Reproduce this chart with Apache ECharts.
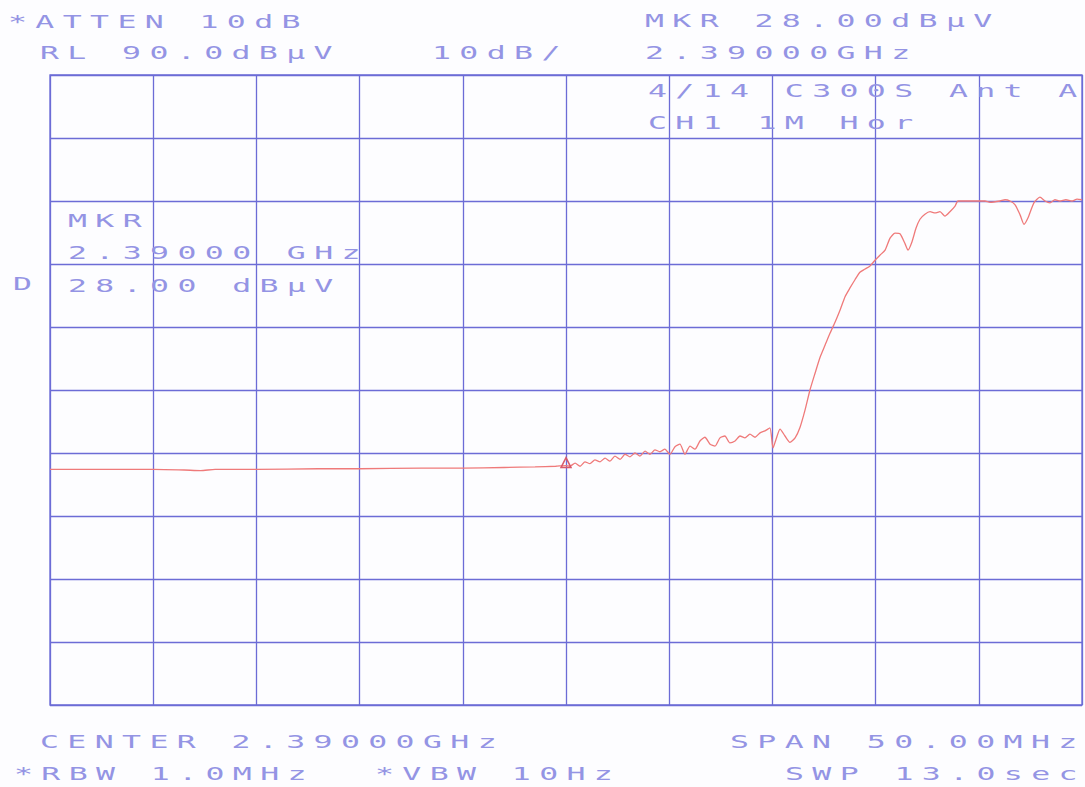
<!DOCTYPE html>
<html>
<head>
<meta charset="utf-8">
<script src="https://cdn.jsdelivr.net/npm/echarts@6/dist/echarts.min.js"></script>
<style>
  html, body { margin: 0; padding: 0; background: #fdfdff; }
  #chart { width: 1085px; height: 787px; }
  #chart text { letter-spacing: 4.8px; }
</style>
</head>
<body>
<div id="chart"></div>
<script>
// Frequency axis: center 2.39000 GHz, span 50 MHz
const freqMin = 2365, freqMax = 2415, freqStep = 5;
// Level axis: RL 90 dBµV, 10 dB/div
const levelMin = -10, levelMax = 90, levelStep = 10;

// Trace (MHz, dBµV)
const freqMHz = [
  2365, 2366, 2368, 2370, 2371.5, 2372.3, 2373, 2375, 2378, 2380, 2383, 2385, 2387, 2388.5, 2389.5, 2390,
  2390.19, 2390.44, 2390.68, 2390.92, 2391.16, 2391.40, 2391.65, 2391.89, 2392.13, 2392.37, 2392.62, 2392.86,
  2393.10, 2393.34, 2393.58, 2393.83, 2394.07, 2394.31, 2394.55, 2394.79, 2395.04, 2395.28, 2395.52, 2395.76,
  2396.01, 2396.25, 2396.49, 2396.73, 2396.98, 2397.22, 2397.46, 2397.70, 2397.94, 2398.19, 2398.43, 2398.67,
  2398.91, 2399.16, 2399.40, 2399.64, 2399.88, 2400.03, 2400.17, 2400.37, 2400.61, 2400.85, 2401.10, 2401.34,
  2401.58, 2401.82, 2402.07, 2402.31, 2402.55, 2402.79, 2403.04, 2403.28, 2403.52, 2403.76, 2404.00, 2404.24,
  2404.49, 2404.73, 2404.97, 2405.21, 2405.46, 2405.70, 2405.94, 2406.18, 2406.43, 2406.57, 2406.76, 2406.96,
  2407.15, 2407.39, 2407.64, 2407.88, 2408.12, 2408.36, 2408.60, 2408.85, 2408.99, 2409.33, 2409.81, 2410.30,
  2410.54, 2411.03, 2411.27, 2411.51, 2411.76, 2412.00, 2412.19, 2412.38, 2412.67, 2412.96, 2413.21, 2413.45,
  2413.69, 2413.93, 2414.22, 2414.51, 2414.76, 2415.00
];
const levelDbuv = [
  27.4, 27.4, 27.4, 27.4, 27.3, 27.2, 27.4, 27.4, 27.5, 27.5, 27.6, 27.6, 27.7, 27.8, 27.9, 28.0,
  27.9, 28.4, 27.9, 28.6, 28.3, 28.9, 28.6, 29.2, 28.7, 29.5, 29.0, 29.8,
  29.4, 30.0, 29.5, 30.3, 29.8, 30.5, 30.2, 30.6, 29.8, 31.0, 31.4, 29.8,
  31.1, 30.6, 31.9, 32.5, 31.4, 31.1, 32.4, 32.7, 31.6, 31.9, 32.7, 32.4,
  33.0, 32.5, 33.2, 33.5, 34.0, 30.8, 32.1, 33.8, 32.7, 31.7, 32.4, 34.1,
  36.8, 40.0, 42.7, 45.2, 47.1, 49.0, 50.8, 52.7, 54.8, 56.2, 57.5, 58.7,
  59.2, 59.7, 60.6, 61.4, 62.2, 64.1, 64.9, 64.8, 63.2, 62.2, 63.5, 65.7,
  67.1, 67.9, 68.3, 68.1, 68.3, 67.6, 68.3, 69.2, 70.0, 70.0, 70.0, 70.0,
  69.8, 70.0, 70.2, 70.0, 69.4, 67.8, 66.3, 67.3, 69.7, 70.6, 70.0, 69.7,
  70.2, 70.0, 70.2, 70.0, 70.3, 70.2
];

// Marker
const markerFreq = 2390;
const markerLevel = 28.0;

// Annotation texts
const headerLeft = ['*ATTEN 10dB', 'RL 90.0dBµV', '10dB/'];
const headerRight = ['MKR 28.00dBµV', '2.39000GHz', '4/14 C300S Ant A', 'CH1 1M Hor'];
const markerBox = ['MKR', '2.39000 GHz', '28.00 dBµV'];
const sideMark = ['D'];
const footer = ['CENTER 2.39000GHz', 'SPAN 50.00MHz', '*RBW 1.0MHz', '*VBW 10Hz', 'SWP 13.0sec'];

const textColor = '#9494e4';
const gridColor = '#6c6cd6';
const traceColor = '#ef7a7a';

function label(text, x, y) {
  return {
    type: 'text', x: x, y: y, scaleX: 1.75, scaleY: 1, z: 100,
    style: {
      text: text, fill: textColor,
      font: '18px "DejaVu Sans Mono"',
      align: 'left', verticalAlign: 'middle'
    }
  };
}

const chart = echarts.init(document.getElementById('chart'), null, { renderer: 'svg' });
chart.setOption({
  backgroundColor: '#fdfdff',
  animation: false,
  grid: {
    left: 50, top: 75, width: 1032, height: 630,
    show: true, borderColor: gridColor, borderWidth: 1.3, backgroundColor: 'transparent'
  },
  xAxis: {
    type: 'value', min: freqMin, max: freqMax, interval: freqStep,
    axisLabel: { show: false }, axisTick: { show: false },
    axisLine: { show: false },
    splitLine: { show: true, lineStyle: { color: gridColor, width: 1.3 } }
  },
  yAxis: {
    type: 'value', min: levelMin, max: levelMax, interval: levelStep,
    axisLabel: { show: false }, axisTick: { show: false },
    axisLine: { show: false },
    splitLine: { show: true, lineStyle: { color: gridColor, width: 1.3 } }
  },
  series: [{
    type: 'line',
    data: freqMHz.map((f, i) => [f, levelDbuv[i]]),
    showSymbol: false,
    smooth: 0.2,
    lineStyle: { color: traceColor, width: 1.3 },
    markPoint: {
      symbol: 'triangle', symbolSize: 10, symbolOffset: [0, -3],
      label: { show: false },
      itemStyle: { color: 'rgba(0,0,0,0)', borderColor: '#d85a6a', borderWidth: 1.5 },
      data: [{ coord: [markerFreq, markerLevel] }]
    }
  }],
  graphic: [
    label(headerLeft[0], 8, 22),
    label(headerLeft[1], 40, 53),
    label(headerLeft[2], 432, 53),
    label(headerRight[0], 645, 21),
    label(headerRight[1], 645, 53),
    label(headerRight[2], 648, 91),
    label(headerRight[3], 648, 123),
    label(markerBox[0], 68, 221),
    label(markerBox[1], 68, 253),
    label(markerBox[2], 68, 286),
    label(sideMark[0], 13, 284),
    label(footer[0], 40, 742),
    label(footer[1], 730, 742),
    label(footer[2], 14, 774),
    label(footer[3], 375, 774),
    label(footer[4], 785, 774)
  ]
});
</script>
</body>
</html>
